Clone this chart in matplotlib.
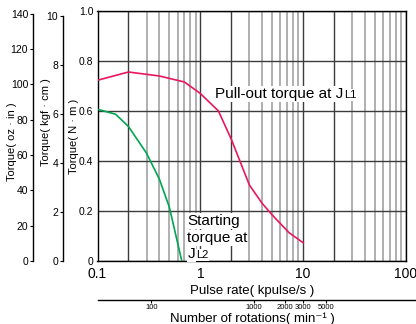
import numpy as np
import matplotlib
matplotlib.use('Agg')
import matplotlib.pyplot as plt
from matplotlib.ticker import LogLocator, FixedLocator, FuncFormatter, NullFormatter, NullLocator

# data
pulse_pullout = [0.1, 0.2, 0.4, 0.7, 1.0, 1.5, 2.0, 3.0, 4.0, 5.0, 7.3, 10.0]
torque_pullout = [0.723, 0.756, 0.74, 0.716, 0.67, 0.6, 0.487, 0.304, 0.23, 0.184, 0.113, 0.073]
pulse_start = [0.1, 0.15, 0.2, 0.3, 0.4, 0.5, 0.66]
torque_start = [0.607, 0.587, 0.538, 0.431, 0.327, 0.215, 0.0]

nm_ticks = [0, 0.2, 0.4, 0.6, 0.8, 1.0]
nm_labels = ['0', '0.2', '0.4', '0.6', '0.8', '1.0']
kgf_ticks = [0, 2, 4, 6, 8, 10]
oz_ticks = [0, 20, 40, 60, 80, 100, 120, 140]
rpm_ticks = [100, 1000, 2000, 3000, 5000]

NM_TO_KGFCM = 10.197
NM_TO_OZIN = 141.61
RPM_PER_KPPS = 300.0   # 200 steps/rev

RED = '#e8175d'
GREEN = '#00a650'
DARK = '#3c3c3c'
LIGHT = '#9a9a9a'

plt.rcParams['font.family'] = ['Liberation Sans', 'DejaVu Sans']
TICK_SIZE = 7.5

W, H = 416, 324
fig = plt.figure(figsize=(W / 100, H / 100), dpi=100)
x0, x1, y_top, y_bot = 97.5, 406.0, 11.0, 261.0
ax = fig.add_axes([x0 / W, (H - y_bot) / H, (x1 - x0) / W, (y_bot - y_top) / H])

ax.set_xscale('log')
ax.set_xlim(0.1, 100)
ax.set_ylim(0, 1.0)

# grid: 1 and 2 of each decade dark, the rest light
ax.xaxis.set_major_locator(LogLocator(base=10, subs=(1.0, 2.0)))
ax.xaxis.set_minor_locator(LogLocator(base=10, subs=(3, 4, 5, 6, 7, 8, 9)))
ax.xaxis.set_major_formatter(FuncFormatter(
    lambda v, p: ('%g' % v) if abs(np.log10(v) - round(np.log10(v))) < 1e-6 else ''))
ax.xaxis.set_minor_formatter(NullFormatter())
ax.grid(True, which='major', axis='both', color=DARK, lw=1.0)
ax.grid(True, which='minor', axis='x', color=LIGHT, lw=1.1)
ax.set_axisbelow(True)

ax.set_yticks(nm_ticks)
ax.set_yticklabels(nm_labels)
ax.tick_params(axis='x', which='both', length=0, pad=4.5, labelsize=10)
ax.tick_params(axis='y', length=0, pad=3, labelsize=TICK_SIZE)
for s in ax.spines.values():
    s.set_color('black')
    s.set_linewidth(1.0)

ax.plot(pulse_pullout, torque_pullout, color=RED, lw=1.2, zorder=3)
ax.plot(pulse_start, torque_start, color=GREEN, lw=1.2, zorder=3)

ax.set_xlabel('Pulse rate( kpulse/s )', fontsize=9.5, labelpad=3)
ax.set_ylabel('Torque( N · m )', fontsize=8)
ax.yaxis.set_label_coords(-0.06, 0.5)

# extra torque scales on the left
def side_axis(ylim, ticks, pos, label, label_x, label_y):
    a = ax.twinx()
    a.set_ylim(*ylim)
    a.yaxis.set_ticks_position('left')
    a.yaxis.set_label_position('left')
    for k in ('top', 'right', 'bottom'):
        a.spines[k].set_visible(False)
    a.spines['left'].set_position(('axes', pos))
    a.spines['left'].set_bounds(ticks[0], ticks[-1])
    a.spines['left'].set_linewidth(1.0)
    a.set_yticks(ticks)
    a.tick_params(axis='y', length=2.5, width=0.8, pad=1, labelsize=TICK_SIZE)
    a.set_ylabel(label, fontsize=8)
    a.yaxis.set_label_coords(label_x, label_y)
    return a

side_axis((0, NM_TO_KGFCM), kgf_ticks, -0.112, 'Torque( kgf · cm )', -0.15, 0.556)
side_axis((0, NM_TO_OZIN), oz_ticks, -0.209, 'Torque( oz · in )', -0.262, 0.476)

# curve labels
box = dict(facecolor='white', edgecolor='none', pad=0.6)
t1 = ax.text(1.40, 0.651, 'Pull-out torque at J', fontsize=11, va='baseline', bbox=box, zorder=4)
ax.annotate('L1', xy=(1, 0), xycoords=t1, xytext=(0.6, 0.8), textcoords='offset points',
            fontsize=8, va='bottom', ha='left', bbox=box, zorder=4)
ax.text(0.747, 0.144, 'Starting', fontsize=11, va='baseline', bbox=box, zorder=4)
ax.text(0.747, 0.076, 'torque at', fontsize=11, va='baseline', bbox=box, zorder=4)
t3 = ax.text(0.747, 0.012, 'J', fontsize=11, va='baseline', bbox=box, zorder=4)
ax.annotate('L2', xy=(1, 0), xycoords=t3, xytext=(0.6, 0.8), textcoords='offset points',
            fontsize=8, va='bottom', ha='left', bbox=box, zorder=4)

# rotation-speed scale below
y_rpm = 300.0
rx = fig.add_axes([x0 / W, (H - y_rpm) / H, (W - x0) / W, 0.0001])
rpm_left = 0.1 * RPM_PER_KPPS
rpm_right = rpm_left * 10 ** (3 * (W - x0) / (x1 - x0))
rx.set_xscale('log')
rx.set_xlim(rpm_left, rpm_right)
rx.xaxis.set_major_locator(FixedLocator(rpm_ticks))
rx.xaxis.set_major_formatter(FuncFormatter(lambda v, p: '%d' % v))
rx.xaxis.set_minor_locator(NullLocator())
rx.yaxis.set_visible(False)
for k in ('top', 'left', 'right'):
    rx.spines[k].set_visible(False)
rx.spines['bottom'].set_linewidth(1.0)
rx.patch.set_visible(False)
rx.tick_params(axis='x', length=2.5, width=0.8, pad=0.5, labelsize=5.5)
rx.set_xlabel('Number of rotations( min⁻¹ )', fontsize=9.5, labelpad=1)
rx.xaxis.label.set_x((252 - x0) / (W - x0))

fig.savefig('out.png', dpi=100)
